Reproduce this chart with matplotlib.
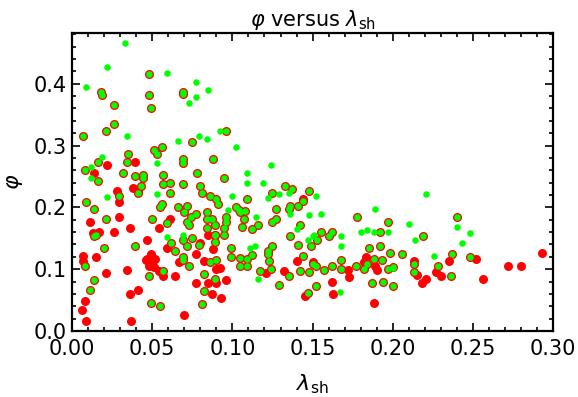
import numpy as np
import matplotlib
matplotlib.use('Agg')
import matplotlib.pyplot as plt
from matplotlib.ticker import MultipleLocator

plt.rcParams['font.family'] = ['DejaVu Sans']
plt.rcParams['mathtext.fontset'] = 'dejavusans'

# puntos presentes en ambas series (verde sobre rojo)
lam_both = [0.018, 0.019, 0.048, 0.048, 0.049, 0.069, 0.069, 0.026, 0.026, 0.021, 0.007, 0.051, 0.056, 0.053,
            0.075, 0.096, 0.035, 0.016, 0.008, 0.034, 0.069, 0.069, 0.088, 0.016, 0.032, 0.039, 0.044, 0.044,
            0.043, 0.041, 0.029, 0.057, 0.057, 0.061, 0.069, 0.078, 0.080, 0.081, 0.095, 0.133, 0.137, 0.061,
            0.086, 0.090, 0.109, 0.125, 0.009, 0.148, 0.014, 0.021, 0.014, 0.015, 0.055, 0.056, 0.066, 0.072,
            0.070, 0.077, 0.072, 0.074, 0.073, 0.084, 0.084, 0.087, 0.089, 0.096, 0.096, 0.095, 0.050, 0.059,
            0.075, 0.084, 0.089, 0.091, 0.020, 0.039, 0.008, 0.014, 0.011, 0.048, 0.057, 0.049, 0.055, 0.062,
            0.064, 0.069, 0.072, 0.079, 0.069, 0.069, 0.073, 0.086, 0.090, 0.089, 0.082, 0.089, 0.082, 0.081,
            0.099, 0.099, 0.089, 0.095, 0.102, 0.104, 0.105, 0.108, 0.107, 0.127, 0.136, 0.135, 0.141, 0.144,
            0.127, 0.125, 0.116, 0.106, 0.112, 0.142, 0.155, 0.162, 0.160, 0.136, 0.178, 0.197, 0.192, 0.105,
            0.105, 0.109, 0.109, 0.112, 0.122, 0.122, 0.125, 0.123, 0.117, 0.124, 0.135, 0.129, 0.141, 0.149,
            0.153, 0.144, 0.142, 0.150, 0.152, 0.148, 0.157, 0.162, 0.168, 0.168, 0.152, 0.147, 0.177, 0.182,
            0.184, 0.185, 0.192, 0.188, 0.193, 0.187, 0.194, 0.197, 0.200, 0.198, 0.200, 0.219, 0.240, 0.237,
            0.228, 0.236, 0.213, 0.213, 0.206, 0.248]
phi_both = [0.387, 0.382, 0.415, 0.382, 0.360, 0.387, 0.384, 0.366, 0.334, 0.323, 0.315, 0.292, 0.297, 0.287,
            0.305, 0.323, 0.287, 0.273, 0.261, 0.273, 0.279, 0.271, 0.279, 0.242, 0.256, 0.250, 0.253, 0.247,
            0.234, 0.224, 0.218, 0.252, 0.237, 0.240, 0.237, 0.256, 0.235, 0.224, 0.247, 0.235, 0.229, 0.223,
            0.218, 0.213, 0.213, 0.223, 0.208, 0.227, 0.198, 0.182, 0.153, 0.156, 0.200, 0.205, 0.200, 0.203,
            0.192, 0.190, 0.177, 0.184, 0.171, 0.192, 0.182, 0.181, 0.171, 0.185, 0.176, 0.166, 0.181, 0.174,
            0.150, 0.166, 0.155, 0.205, 0.134, 0.137, 0.106, 0.082, 0.066, 0.089, 0.097, 0.045, 0.040, 0.142,
            0.129, 0.147, 0.137, 0.139, 0.119, 0.115, 0.106, 0.111, 0.115, 0.144, 0.092, 0.084, 0.065, 0.044,
            0.135, 0.119, 0.156, 0.156, 0.200, 0.195, 0.192, 0.194, 0.181, 0.198, 0.202, 0.197, 0.202, 0.210,
            0.182, 0.177, 0.171, 0.168, 0.165, 0.171, 0.160, 0.160, 0.153, 0.153, 0.185, 0.176, 0.160, 0.118,
            0.105, 0.116, 0.105, 0.123, 0.129, 0.124, 0.137, 0.113, 0.097, 0.100, 0.089, 0.074, 0.139, 0.137,
            0.147, 0.121, 0.097, 0.108, 0.105, 0.095, 0.098, 0.105, 0.115, 0.100, 0.073, 0.061, 0.105, 0.100,
            0.108, 0.135, 0.137, 0.116, 0.115, 0.077, 0.079, 0.100, 0.103, 0.126, 0.073, 0.153, 0.185, 0.124,
            0.106, 0.089, 0.095, 0.108, 0.124, 0.119]

# solo rojos
lam_red = [0.022, 0.039, 0.014, 0.038, 0.041, 0.028, 0.144, 0.029, 0.011, 0.029, 0.013, 0.017, 0.026, 0.036,
           0.047, 0.061, 0.054, 0.007, 0.007, 0.015, 0.021, 0.008, 0.006, 0.009, 0.034, 0.036, 0.041, 0.037,
           0.047, 0.049, 0.048, 0.050, 0.051, 0.046, 0.052, 0.054, 0.057, 0.070, 0.059, 0.080, 0.067, 0.077,
           0.064, 0.082, 0.088, 0.090, 0.092, 0.077, 0.085, 0.090, 0.087, 0.093, 0.096, 0.085, 0.121, 0.132,
           0.140, 0.150, 0.172, 0.173, 0.162, 0.145, 0.163, 0.182, 0.183, 0.189, 0.190, 0.188, 0.235, 0.227,
           0.230, 0.221, 0.218, 0.215, 0.213, 0.252, 0.256, 0.272, 0.280, 0.293]
phi_red = [0.268, 0.274, 0.255, 0.231, 0.227, 0.226, 0.213, 0.208, 0.177, 0.185, 0.158, 0.160, 0.160, 0.166,
           0.148, 0.182, 0.166, 0.121, 0.113, 0.119, 0.094, 0.048, 0.034, 0.016, 0.098, 0.060, 0.066, 0.016,
           0.116, 0.124, 0.105, 0.108, 0.103, 0.115, 0.116, 0.097, 0.089, 0.026, 0.135, 0.142, 0.111, 0.124,
           0.089, 0.113, 0.132, 0.100, 0.102, 0.077, 0.077, 0.077, 0.060, 0.053, 0.082, 0.156, 0.094, 0.097,
           0.113, 0.111, 0.098, 0.087, 0.079, 0.056, 0.060, 0.111, 0.119, 0.105, 0.098, 0.045, 0.113, 0.095,
           0.089, 0.084, 0.077, 0.090, 0.113, 0.116, 0.085, 0.106, 0.106, 0.126]

# solo verdes
lam_green = [0.033, 0.022, 0.009, 0.059, 0.077, 0.077, 0.073, 0.085, 0.034, 0.066, 0.079, 0.084, 0.092, 0.102,
             0.019, 0.012, 0.053, 0.124, 0.012, 0.109, 0.109, 0.119, 0.053, 0.100, 0.022, 0.129, 0.221, 0.152,
             0.135, 0.122, 0.115, 0.136, 0.148, 0.155, 0.140, 0.150, 0.147, 0.168, 0.189, 0.180, 0.184, 0.188,
             0.197, 0.059, 0.069, 0.097, 0.116, 0.111, 0.114, 0.168, 0.167, 0.210, 0.214, 0.240, 0.248, 0.243,
             0.226, 0.200, 0.151]
phi_green = [0.466, 0.427, 0.394, 0.418, 0.403, 0.379, 0.368, 0.390, 0.315, 0.308, 0.316, 0.310, 0.324, 0.297,
             0.282, 0.266, 0.271, 0.269, 0.247, 0.255, 0.239, 0.239, 0.221, 0.218, 0.216, 0.221, 0.221, 0.218,
             0.223, 0.215, 0.184, 0.189, 0.187, 0.189, 0.165, 0.153, 0.148, 0.153, 0.197, 0.160, 0.163, 0.161,
             0.160, 0.152, 0.156, 0.195, 0.085, 0.135, 0.137, 0.137, 0.063, 0.173, 0.147, 0.169, 0.158, 0.142,
             0.121, 0.102, 0.155]

x_rojo = lam_both + lam_red
y_rojo = phi_both + phi_red
x_verde = lam_both + lam_green
y_verde = phi_both + phi_green

fig = plt.figure(figsize=(5.78, 3.97), dpi=100)
ax = fig.add_axes([0.1246, 0.166, 0.8324, 0.751])

ax.scatter(x_rojo, y_rojo, s=42, color=(1, 0, 0), linewidths=0, zorder=2)
ax.scatter(x_verde, y_verde, s=22, color=(0, 1, 0), linewidths=0, zorder=3)

ax.set_xlim(0, 0.30)
ax.set_ylim(0, 0.482)
ax.set_xticks(np.arange(0, 0.301, 0.05))
ax.set_xticklabels(['%.2f' % v for v in np.arange(0, 0.301, 0.05)])
ax.set_yticks(np.arange(0, 0.41, 0.1))
ax.set_yticklabels(['%.1f' % v for v in np.arange(0, 0.41, 0.1)])
ax.xaxis.set_minor_locator(MultipleLocator(0.01))
ax.yaxis.set_minor_locator(MultipleLocator(0.02))
ax.tick_params(which='both', direction='in', top=True, right=True, width=1.2, labelsize=15)
ax.tick_params(which='major', length=6)
ax.tick_params(which='minor', length=3)
ax.tick_params(axis='x', pad=6)
ax.tick_params(axis='y', pad=4)
for sp in ax.spines.values():
    sp.set_linewidth(1.6)

ax.set_title(r'$\varphi$ versus $\lambda_{\mathrm{sh}}$', fontsize=15, pad=5)
ax.set_xlabel(r'$\lambda_{\mathrm{sh}}$', fontsize=16, labelpad=9)
ax.set_ylabel(r'$\varphi$', fontsize=16, labelpad=6)

fig.savefig('out.png', dpi=100)
